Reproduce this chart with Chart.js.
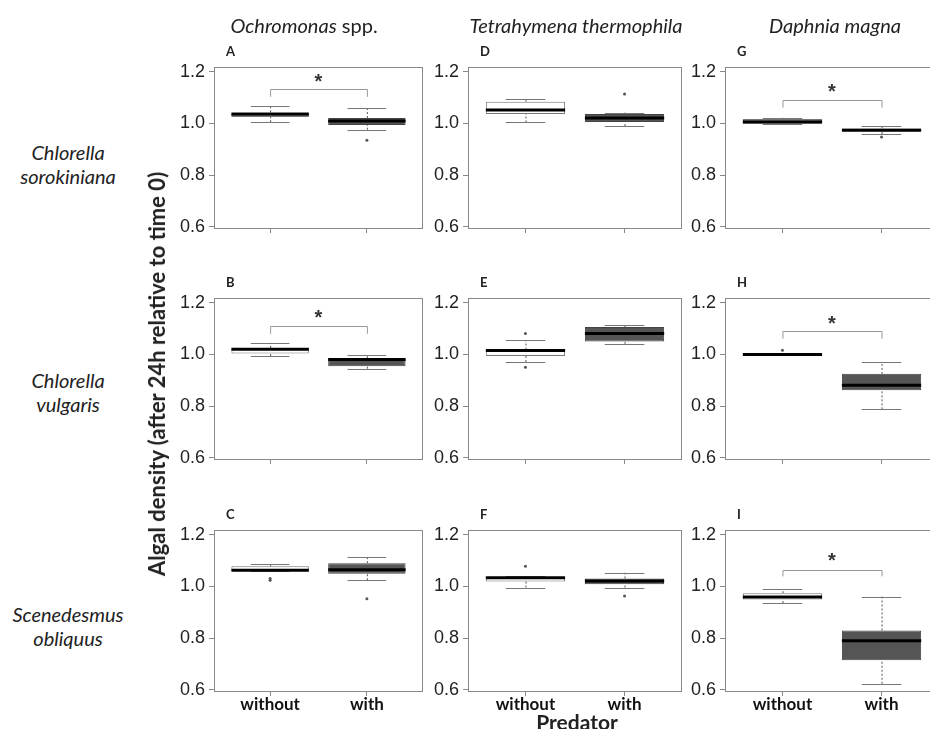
<!DOCTYPE html>
<html>
<head>
<meta charset="utf-8">
<script src="https://cdn.jsdelivr.net/npm/chart.js@4/dist/chart.umd.min.js"></script>
<style>
  body { margin: 0; width: 930px; height: 729px; overflow: hidden; background: #fff; position: relative; font-family: Lato, sans-serif; color: #222; }
  canvas { position: absolute; }
  .lbl { position: absolute; line-height: 1; white-space: nowrap; transform: translate(-50%, -50%); }
  .ttl { font-size: 20px; font-style: italic; }
  .row { font-size: 20px; font-style: italic; text-align: center; }
  .letter { position: absolute; font-weight: bold; font-size: 13px; line-height: 1; transform: translateY(-50%); }
</style>
</head>
<body>
<script>
// panels in order A..I (column by column)
var panelIds = ['A', 'B', 'C', 'D', 'E', 'F', 'G', 'H', 'I'];
var groups = ['without', 'with'];
var predators = ['Ochromonas', 'Tetrahymena thermophila', 'Daphnia magna'];
var algae = [['Chlorella', 'sorokiniana'], ['Chlorella', 'vulgaris'], ['Scenedesmus', 'obliquus']];
var yTicks = [0.6, 0.8, 1.0, 1.2];

// [lower whisker, q1, median, q3, upper whisker]
var withoutStats = [
    [1.005, 1.025, 1.036, 1.043, 1.069],
    [0.994, 1.004, 1.020, 1.025, 1.045],
    [1.059, 1.059, 1.063, 1.078, 1.086],
    [1.004, 1.037, 1.052, 1.084, 1.095],
    [0.971, 0.994, 1.015, 1.019, 1.056],
    [0.996, 1.019, 1.034, 1.036, 1.040],
    [0.998, 0.998, 1.007, 1.017, 1.022],
    [0.997, 0.998, 1.000, 1.001, 1.002],
    [0.936, 0.950, 0.959, 0.974, 0.990]
];
var withStats = [
    [0.976, 0.994, 1.010, 1.021, 1.058],
    [0.945, 0.954, 0.981, 0.985, 0.998],
    [1.024, 1.049, 1.065, 1.090, 1.115],
    [0.990, 1.006, 1.021, 1.037, 1.042],
    [1.041, 1.050, 1.081, 1.106, 1.113],
    [0.996, 1.009, 1.021, 1.031, 1.053],
    [0.959, 0.970, 0.974, 0.981, 0.991],
    [0.788, 0.862, 0.881, 0.925, 0.969],
    [0.624, 0.715, 0.790, 0.830, 0.961]
];
var withoutOutliers = [[], [], [1.031, 1.024], [], [1.081, 0.951], [1.078], [], [1.016], []];
var withOutliers = [[0.935], [], [0.953], [1.114], [], [0.963], [0.948], [], []];
// [bracket line, bracket leg end, star] or null
var signif = [
    [1.133, 1.103, 1.180],
    [1.110, 1.080, 1.160],
    null, null, null, null,
    [1.092, 1.061, 1.140],
    [1.091, 1.061, 1.136],
    [1.065, 1.039, 1.118]
];

var colLeft = [214, 468, 725];
var colRight = [423, 682, 939];
var rowTop = [62, 293, 525];
var plotH = 166;
var axisW = 60, axisH = 36, padT = 10, padR = 10;

function el(cls, html, x, y) {
    var d = document.createElement('div');
    d.className = cls;
    d.innerHTML = html;
    d.style.left = x + 'px';
    d.style.top = y + 'px';
    document.body.appendChild(d);
    return d;
}

var boxExtras = {
    id: 'boxExtras',
    afterDatasetsDraw: function(chart, args, opts) {
        var ctx = chart.ctx, a = chart.chartArea;
        var xs = chart.scales.x, ys = chart.scales.y;
        var p = opts.panel;
        var py = function(v) { return ys.getPixelForValue(v); };
        function line(x1, y1, x2, y2) {
            ctx.beginPath(); ctx.moveTo(x1, y1); ctx.lineTo(x2, y2); ctx.stroke();
        }
        ctx.save();
        [withoutStats[p], withStats[p]].forEach(function(s, g) {
            var xc = xs.getPixelForValue(g + 1);
            var half = xs.getPixelForValue(1.4) - xs.getPixelForValue(1);
            var cap = half / 2;
            ctx.lineWidth = 1;
            ctx.strokeStyle = '#555';
            ctx.setLineDash([2, 2]);
            line(xc + 0.5, py(s[0]), xc + 0.5, py(s[1]));
            line(xc + 0.5, py(s[3]), xc + 0.5, py(s[4]));
            ctx.setLineDash([]);
            ctx.strokeStyle = '#777';
            line(xc - cap, Math.round(py(s[0])) + 0.5, xc + cap, Math.round(py(s[0])) + 0.5);
            line(xc - cap, Math.round(py(s[4])) + 0.5, xc + cap, Math.round(py(s[4])) + 0.5);
            ctx.lineWidth = 3;
            ctx.strokeStyle = '#000';
            line(xc - half, py(s[2]), xc + half, py(s[2]));
            var outs = g === 0 ? withoutOutliers[p] : withOutliers[p];
            ctx.fillStyle = '#555';
            outs.forEach(function(v) {
                ctx.beginPath(); ctx.arc(xc, py(v), 1.5, 0, Math.PI * 2); ctx.fill();
            });
        });
        var sg = signif[p];
        if (sg) {
            var x1 = xs.getPixelForValue(1) + 0.5, x2 = xs.getPixelForValue(2) + 0.5;
            var yl = Math.round(py(sg[0])) + 0.5;
            ctx.lineWidth = 1;
            ctx.strokeStyle = '#999';
            ctx.beginPath();
            ctx.moveTo(x1, py(sg[1])); ctx.lineTo(x1, yl); ctx.lineTo(x2, yl); ctx.lineTo(x2, py(sg[1]));
            ctx.stroke();
            ctx.fillStyle = '#333';
            ctx.font = 'bold 20px "Liberation Sans", Arial, sans-serif';
            ctx.textAlign = 'center';
            ctx.textBaseline = 'alphabetic';
            ctx.fillText('*', xs.getPixelForValue(1.5), py(sg[2]) + 11);
        }
        ctx.strokeStyle = '#888';
        ctx.lineWidth = 1;
        ctx.strokeRect(Math.round(a.left) + 0.5, Math.round(a.top) + 0.5, Math.round(a.width) - 1, Math.round(a.height));
        ctx.restore();
    }
};

panelIds.forEach(function(id, p) {
    var col = Math.floor(p / 3), row = p % 3;
    var L = colLeft[col], R = colRight[col], T = rowTop[row];
    var cv = document.createElement('canvas');
    cv.width = (R - L) + axisW + padR;
    cv.height = plotH + padT + axisH;
    cv.style.left = (L - axisW) + 'px';
    cv.style.top = (T - padT) + 'px';
    document.body.appendChild(cv);

    var bottomRow = row === 2;
    new Chart(cv.getContext('2d'), {
        type: 'bar',
        data: {
            datasets: [{
                data: [
                    { x: 1, y: [withoutStats[p][1], withoutStats[p][3]] },
                    { x: 2, y: [withStats[p][1], withStats[p][3]] }
                ],
                backgroundColor: ['#ffffff', '#555555'],
                borderColor: ['#777777', '#444444'],
                borderWidth: 1,
                borderSkipped: false,
                barPercentage: 0.8,
                categoryPercentage: 1
            }]
        },
        options: {
            responsive: false,
            animation: false,
            events: [],
            layout: { padding: { top: padT, right: padR, left: 0, bottom: 0 } },
            plugins: {
                legend: { display: false },
                tooltip: { enabled: false },
                boxExtras: { panel: p }
            },
            scales: {
                x: {
                    type: 'linear',
                    offset: false,
                    min: 0.42,
                    max: 2.58,
                    afterBuildTicks: function(s) { s.ticks = [{ value: 1 }, { value: 2 }]; },
                    afterFit: function(s) { s.height = axisH; },
                    border: { display: false },
                    grid: { offset: false, drawOnChartArea: false, drawTicks: true, tickLength: 5, color: '#888' },
                    ticks: {
                        padding: -2,
                        color: '#111',
                        font: { family: 'Lato', weight: 'bold', size: 17 },
                        callback: function(v) { return bottomRow ? groups[v - 1] : ''; }
                    }
                },
                y: {
                    min: 0.596,
                    max: 1.219,
                    afterBuildTicks: function(s) { s.ticks = yTicks.map(function(v) { return { value: v }; }); },
                    afterFit: function(s) { s.width = axisW; },
                    border: { display: false },
                    grid: { drawOnChartArea: false, drawTicks: true, tickLength: 5, color: '#888' },
                    ticks: {
                        padding: 4,
                        color: '#222',
                        font: { family: '"Liberation Sans", Arial, sans-serif', size: 18 },
                        callback: function(v) { return v.toFixed(1); }
                    }
                }
            }
        },
        plugins: [boxExtras]
    });

    el('letter', id, L + 12, T - 11);
});

// column titles
el('lbl ttl', '<i>Ochromonas</i><span style="font-style:normal"> spp.</span>', 304, 25);
el('lbl ttl', predators[1], 576, 25);
el('lbl ttl', predators[2], 835, 25);

// row labels
var rowY = [152, 380, 614];
algae.forEach(function(a, i) {
    el('lbl row', a[0], 68, rowY[i]);
    el('lbl row', a[1], 68, rowY[i] + 24);
});

// axis titles
var yt = el('lbl', 'Algal density (after 24h relative to time 0)', 157, 374);
yt.style.fontWeight = 'bold';
yt.style.fontSize = '22px';
yt.style.transform = 'translate(-50%, -50%) rotate(-90deg)';
var xt = el('lbl', 'Predator', 577, 721);
xt.style.fontWeight = 'bold';
xt.style.fontSize = '21px';
</script>
</body>
</html>
